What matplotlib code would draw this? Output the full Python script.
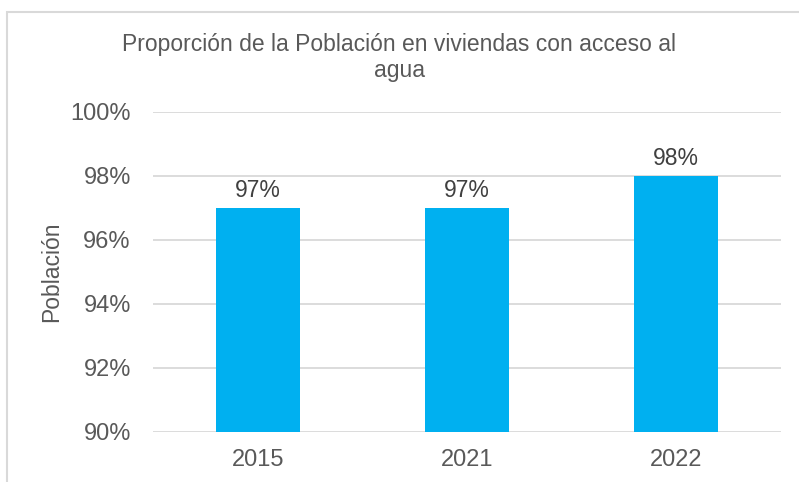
import matplotlib.pyplot as plt
from matplotlib.patches import Rectangle

years = ['2015', '2021', '2022']
values = [97, 97, 98]
yticks = [90, 92, 94, 96, 98, 100]

plt.rcParams['font.family'] = ['Liberation Sans', 'DejaVu Sans']
gray = '#595959'

fig = plt.figure(figsize=(7.99, 4.82), dpi=100)
ax = fig.add_axes([153 / 799, 1 - 432 / 482, 628 / 799, 320 / 482])

# chart border (cut off at right and bottom)
fig.patches.append(Rectangle((7 / 799, -0.1), 1.2, 1 - 12 / 482 + 0.1,
                             transform=fig.transFigure, fill=False,
                             edgecolor='#d9d9d9', linewidth=1.5))

x = range(len(years))
bars = ax.bar(x, values, width=0.4, color='#00b0f0', zorder=3)
for b, v in zip(bars, values):
    ax.text(b.get_x() + b.get_width() / 2, v + 0.2, f'{v}%', ha='center',
            va='bottom', fontsize=16.5, color='#404040')

ax.set_xlim(-0.5, 2.5)
ax.set_ylim(90, 100)
ax.set_yticks(yticks)
ax.set_yticklabels([f'{t}%' for t in yticks])
ax.set_xticks(list(x))
ax.set_xticklabels(years)
ax.tick_params(axis='both', length=0, labelsize=17, colors=gray)
ax.tick_params(axis='y', pad=16)
ax.tick_params(axis='x', pad=12)
ax.grid(axis='y', color='#d9d9d9', linewidth=1.3, zorder=0)
for s in ax.spines.values():
    s.set_visible(False)

ax.set_ylabel('Población', fontsize=16.5, color=gray, labelpad=5)
fig.text(0.5, 1 - 45 / 482, 'Proporción de la Población en viviendas con acceso al',
         ha='center', va='center', fontsize=16.5, color=gray)
fig.text(0.5, 1 - 71 / 482, 'agua', ha='center', va='center', fontsize=16.5, color=gray)

fig.savefig('out.png', dpi=100)
